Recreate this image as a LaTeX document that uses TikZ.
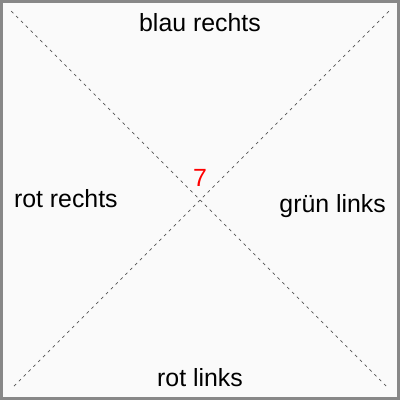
\documentclass[tikz,border=0pt]{standalone}
\usepackage{fontspec}
\setmainfont{Liberation Sans}
\definecolor{fond}{HTML}{FAFAFA}
\definecolor{cadre}{HTML}{888888}
\definecolor{diag}{HTML}{555555}
\begin{document}
\begin{tikzpicture}[x=0.025cm, y=-0.025cm,
  label/.style={inner sep=0pt, anchor=base, font=\fontsize{17.8}{21}\selectfont}]

  % Fond et cadre
  \fill[fond] (0, 0) rectangle (400, 400);
  \draw[cadre, line width=1.8pt] (0, 0) rectangle (400, 400);

  % Coins des diagonales
  \coordinate (hg) at (10, 10);
  \coordinate (hd) at (390, 10);
  \coordinate (bg) at (10, 390);
  \coordinate (bd) at (390, 390);

  % Diagonales en pointillés
  \draw[diag, line width=0.5pt, dash pattern=on 2.1pt off 2.8pt] (hg) -- (bd);
  \draw[diag, line width=0.5pt, dash pattern=on 2.1pt off 2.8pt] (hd) -- (bg);

  % Textes
  \node[label] (haut) at (200, 30) {blau rechts};
  \node[label] (bas) at (200, 388) {rot links};
  \node[label] (gauche) at (65, 208) {rot rechts};
  \node[label] (droite) at (333.5, 213) {grün links};
  \node[label, red] (centre) at (200, 186) {7};

\end{tikzpicture}
\end{document}
